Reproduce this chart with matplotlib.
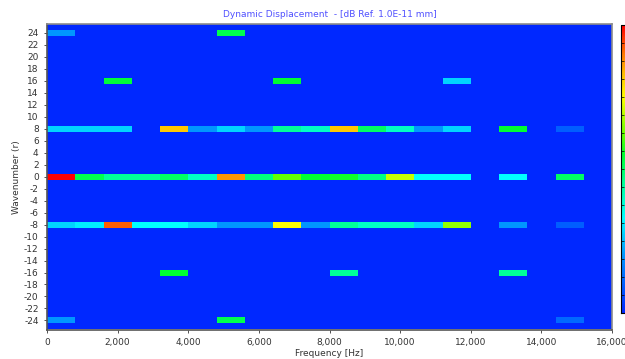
import numpy as np
import matplotlib
matplotlib.use("Agg")
import matplotlib.pyplot as plt
from matplotlib.colors import LinearSegmentedColormap

plt.rcParams["axes.unicode_minus"] = False

# Frequency bins (Hz), 800 Hz wide, 0..16000
freq_edges = np.arange(0, 16001, 800)
n_bins = len(freq_edges) - 1

# Wavenumbers shown and the ones with content
wavenumbers = np.arange(-25, 26)

# Relative level (0 = floor, 1 = max) per frequency bin, for each active wavenumber
row_24 = [0.20, 0, 0, 0, 0, 0, 0.52, 0, 0, 0, 0, 0, 0, 0, 0, 0, 0, 0, 0, 0]
row_16 = [0, 0, 0.54, 0, 0, 0, 0, 0, 0.55, 0, 0, 0, 0, 0, 0.28, 0, 0, 0, 0, 0]
row_8 = [0.28, 0.28, 0.28, 0, 0.82, 0.20, 0.28, 0.20, 0.45, 0.40,
         0.82, 0.50, 0.40, 0.20, 0.28, 0, 0.55, 0, 0.10, 0]
row_0 = [1.00, 0.52, 0.45, 0.45, 0.50, 0.40, 0.87, 0.48, 0.62, 0.55,
         0.56, 0.47, 0.70, 0.33, 0.33, 0, 0.33, 0, 0.50, 0]
row_m8 = [0.28, 0.31, 0.92, 0.33, 0.33, 0.28, 0.20, 0.20, 0.75, 0.20,
          0.45, 0.40, 0.40, 0.28, 0.66, 0, 0.20, 0, 0.10, 0]
row_m16 = [0, 0, 0, 0, 0.55, 0, 0, 0, 0, 0, 0.45, 0, 0, 0, 0, 0, 0.45, 0, 0, 0]
row_m24 = [0.20, 0, 0, 0, 0, 0, 0.52, 0, 0, 0, 0, 0, 0, 0, 0, 0, 0, 0, 0.12, 0]

rows = {24: row_24, 16: row_16, 8: row_8, 0: row_0,
        -8: row_m8, -16: row_m16, -24: row_m24}

grid = np.zeros((len(wavenumbers), n_bins))
for r, vals in rows.items():
    grid[np.where(wavenumbers == r)[0][0], :] = vals

wn_edges = np.arange(-25.5, 26.0, 1.0)

cmap = LinearSegmentedColormap.from_list(
    "lms",
    [(0.0, "#0028FF"), (0.20, "#0096FF"), (0.33, "#00FFFF"), (0.45, "#00FF9A"),
     (0.55, "#00FF30"), (0.62, "#64FF00"), (0.75, "#FFFF00"), (0.82, "#FFC800"),
     (0.90, "#FF7800"), (1.0, "#FF0000")])

fig = plt.figure(figsize=(6.25, 3.59), dpi=100)
ax = fig.add_axes([47 / 625, 1 - 330 / 359, (612 - 47) / 625, (330 - 24) / 359])
mesh = ax.pcolormesh(freq_edges, wn_edges, grid, cmap=cmap, vmin=0, vmax=1)

ax.set_xlim(0, 16000)
ax.set_ylim(-25.6, 25.5)
ax.set_xticks(np.arange(0, 16001, 2000))
ax.set_xticklabels([f"{v:,}" for v in range(0, 16001, 2000)])
ax.set_yticks(np.arange(-24, 25, 2))

tick_col = "#333333"
ax.tick_params(labelsize=6.5, colors=tick_col, length=2.5, width=0.6)
for s in ax.spines.values():
    s.set_color("#8c8c8c")
    s.set_linewidth(1.2)
ax.spines["left"].set_color("#555555")
ax.spines["bottom"].set_color("#555555")

ax.set_xlabel("Frequency [Hz]", fontsize=6.5, color=tick_col, labelpad=1)
ax.set_ylabel("Wavenumber (r)", fontsize=6.5, color=tick_col, labelpad=2)
ax.set_title("Dynamic Displacement  - [dB Ref. 1.0E-11 mm]", fontsize=6.5,
             color="#5050ff", pad=5)

# colour scale, cut by the right edge
cax = fig.add_axes([621 / 625, 1 - 313 / 359, 0.02, (313 - 25) / 359])
cb = fig.colorbar(mesh, cax=cax)
cb.set_ticks(np.linspace(0, 1, 17))
cb.ax.tick_params(direction="in", length=2, width=0.5, labelright=False,
                  right=False, left=True)
cb.outline.set_linewidth(0.8)

fig.savefig("out.png", dpi=100)
